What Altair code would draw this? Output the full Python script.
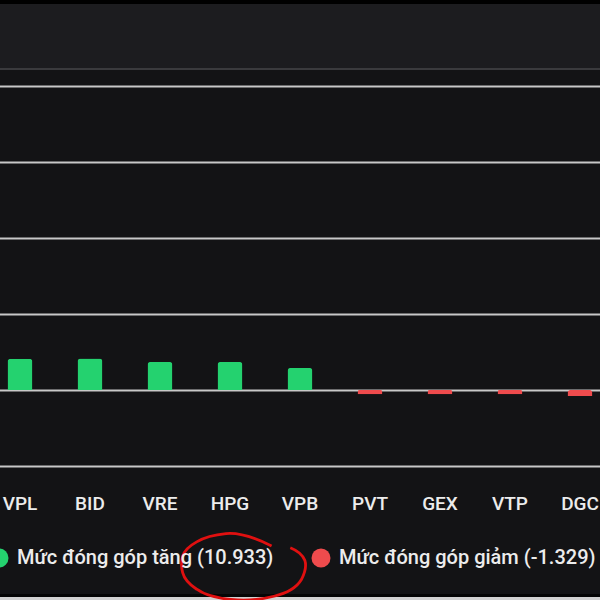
import altair as alt
import pandas as pd

# Index-point contribution per ticker
tickers = ["VPL", "BID", "VRE", "HPG", "VPB", "PVT", "GEX", "VTP", "DGC"]
contrib = [0.82, 0.83, 0.74, 0.74, 0.58, -0.11, -0.11, -0.11, -0.16]

# Session totals shown in the legend
total_up = 10.933
total_down = -1.329
label_up = f"Mức đóng góp tăng ({total_up:.3f})"
label_down = f"Mức đóng góp giảm ({total_down:.3f})"

grid_values = [-2, 0, 2, 4, 6, 8]

GREEN = "#24d26f"
RED = "#ef4b4d"
FONT = "Roboto"

df = pd.DataFrame({
    "ticker": tickers,
    "value": contrib,
    "group": [label_up if v >= 0 else label_down for v in contrib],
})

W, H = 600, 380

# Surrounding panel chrome
header_black = alt.Chart(pd.DataFrame({"k": [0]})).mark_rect(color="#000000").encode(
    x=alt.value(0), x2=alt.value(W), y=alt.value(-86), y2=alt.value(-82))
header_bar = alt.Chart(pd.DataFrame({"k": [0]})).mark_rect(color="#1c1c1f").encode(
    x=alt.value(0), x2=alt.value(W), y=alt.value(-82), y2=alt.value(-18))
header_rule = alt.Chart(pd.DataFrame({"k": [0]})).mark_rect(color="#3a3a3d").encode(
    x=alt.value(0), x2=alt.value(W), y=alt.value(-18), y2=alt.value(-16))
footer_dark = alt.Chart(pd.DataFrame({"k": [0]})).mark_rect(color="#050505").encode(
    x=alt.value(0), x2=alt.value(W), y=alt.value(508), y2=alt.value(511))
footer_light = alt.Chart(pd.DataFrame({"k": [0]})).mark_rect(color="#d2d2d2").encode(
    x=alt.value(0), x2=alt.value(W), y=alt.value(511), y2=alt.value(514))

bars = alt.Chart(df).mark_bar(cornerRadiusEnd=3).encode(
    x=alt.X(
        "ticker:N",
        sort=tickers,
        scale=alt.Scale(range=[-15, 615], paddingInner=0.643, paddingOuter=0.3215),
        axis=alt.Axis(
            title=None, domain=False, ticks=False, grid=False, labelAngle=0,
            labelFont=FONT, labelFontSize=19, labelFontWeight=500,
            labelColor="#ececec", labelPadding=28, labelBaseline="top",
        ),
    ),
    y=alt.Y(
        "value:Q",
        scale=alt.Scale(domain=[-2, 8], nice=False, zero=False),
        axis=alt.Axis(
            title=None, values=grid_values, labels=False, ticks=False, domain=False,
            grid=True, gridColor="#c8c8c8", gridWidth=1.8,
        ),
    ),
    color=alt.Color(
        "group:N",
        scale=alt.Scale(domain=[label_up, label_down], range=[GREEN, RED]),
        legend=alt.Legend(
            title=None, orient="none", legendX=-11, legendY=462,
            direction="horizontal", symbolType="circle", symbolSize=361,
            symbolStrokeWidth=0, labelFont=FONT, labelFontSize=20,
            labelFontWeight=500, labelColor="#ececec", labelOffset=8,
            labelLimit=500, columnPadding=37,
        ),
    ),
)

# Hand-drawn red highlight around the gain total
ring_path = (
    "M0.48,-0.36 Q0,-0.6 -0.3,-0.57 Q-0.61,-0.54 -0.8,-0.43 "
    "Q-1.0,-0.32 -1.04,-0.185 Q-1.08,-0.05 -1.04,0.095 Q-1.0,0.25 -0.8,0.38 "
    "Q-0.61,0.52 -0.215,0.555 Q0.18,0.59 0.52,0.5 Q0.87,0.42 0.99,0.215 "
    "Q1.09,0.02 1.05,-0.11 Q1.0,-0.25 0.8,-0.33"
)
ring = alt.Chart(pd.DataFrame({"k": [0]})).mark_point(
    shape=ring_path, size=13689, filled=False, stroke="#e01010",
    strokeWidth=2.8, opacity=1,
).encode(x=alt.value(243.5), y=alt.value(481))

chart = alt.layer(
    header_black, header_bar, header_rule, footer_dark, footer_light, bars, ring
).properties(
    width=W, height=H,
    padding={"left": 0, "top": 86, "right": 0, "bottom": 134},
    autosize=alt.AutoSizeParams(type="none"),
    background="#131315",
).configure_view(stroke=None)

chart.save("out.html", embed_options={"renderer": "svg", "actions": False})
